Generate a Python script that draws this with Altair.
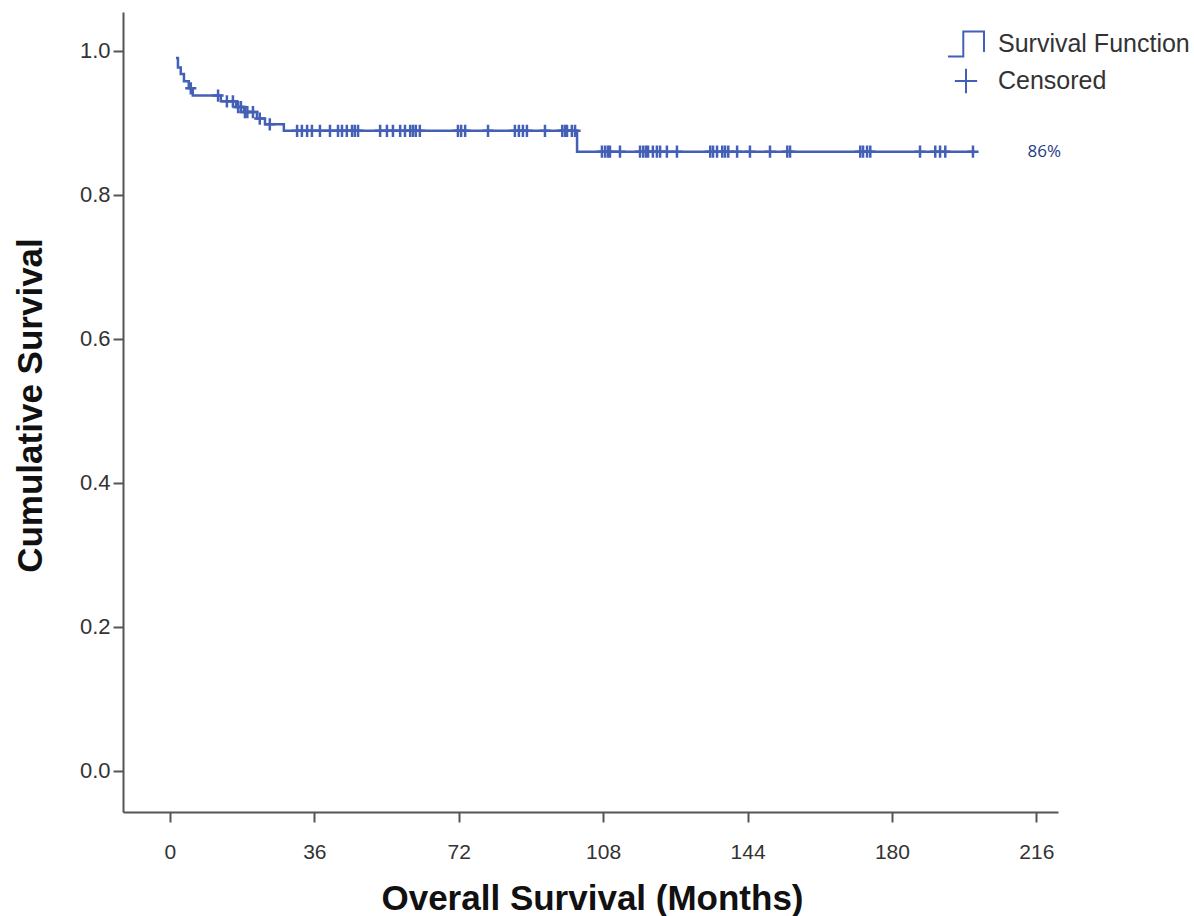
import altair as alt
import pandas as pd

# Kaplan-Meier step curve (months, cumulative survival)
step_times = [1.5, 2.0, 2.7, 3.5, 4.7, 5.7, 12.7, 16.5, 18.5, 21.7, 23.7, 28.4, 101.5, 200.7]
step_surv = [0.990, 0.977, 0.968, 0.958, 0.948, 0.938, 0.930, 0.922, 0.915, 0.906, 0.898, 0.889, 0.860, 0.860]

# Censored observations
cens_times = [5.2, 12.0, 14.2, 15.7, 17.0, 17.7, 18.7, 19.3, 20.7, 22.4, 24.9,
              31.7, 32.9, 34.2, 35.4, 37.4, 39.9, 41.9, 42.9, 44.1, 45.4, 46.1, 46.9,
              52.4, 54.1, 55.6, 57.4, 58.6, 59.9, 60.6, 61.3, 62.3, 71.8, 72.6, 73.6,
              79.3, 86.0, 87.0, 88.0, 89.0, 93.5, 97.8, 98.5, 99.0, 100.2, 101.0,
              107.7, 108.5, 109.2, 109.7, 112.2, 117.2, 118.0, 118.7, 119.2, 120.4,
              121.4, 122.2, 123.9, 126.4, 134.7, 135.4, 136.4, 137.7, 138.4, 139.2,
              141.4, 144.6, 149.6, 153.9, 154.6, 172.1, 172.8, 173.8, 174.6, 187.0,
              190.8, 192.0, 193.3, 200.2]
cens_surv = [0.948, 0.938, 0.930, 0.930, 0.922, 0.922, 0.915, 0.915, 0.915, 0.906, 0.898] + \
            [0.889] * 35 + [0.860] * 34

x_ticks = [0, 36, 72, 108, 144, 180, 216]
y_ticks = [0.0, 0.2, 0.4, 0.6, 0.8, 1.0]
legend_names = ["Survival Function", "Censored"]
annot_text = ["86%"]
annot_x = [218]
annot_y = [0.86]

BLUE = "#4360B6"
STEP_PATH = "M-1,0.7H-0.15V-0.7H1V0.45"
PLUS_PATH = "M-0.62,0H0.62M0,-0.68V0.68"

steps = pd.DataFrame({"t": step_times, "s": step_surv})
cens = pd.DataFrame({"t": cens_times, "s": cens_surv, "kind": "Censored"})
annot = pd.DataFrame({"t": annot_x, "s": annot_y, "label": annot_text})

xscale = alt.Scale(domain=[-11.7, 221.4], nice=False, zero=False)
yscale = alt.Scale(domain=[-0.057, 1.054], nice=False, zero=False)

xaxis = alt.Axis(values=x_ticks, title="Overall Survival (Months)", grid=False,
                 labelFontSize=21, labelPadding=19, tickSize=10,
                 titleFontSize=35, titleFontWeight="bold", titleColor="#111",
                 titleX=469, titleY=86, titleBaseline="middle", titleAlign="center")
yaxis = alt.Axis(values=y_ticks, format=".1f", title="Cumulative Survival", grid=False,
                 labelFontSize=22, labelPadding=3, tickSize=10,
                 titleFontSize=35, titleFontWeight="bold", titleColor="#111",
                 titleX=-93, titleY=393, titleAngle=-90, titleBaseline="middle",
                 titleAlign="center")

line = alt.Chart(steps).mark_line(interpolate="step-after", color=BLUE, strokeWidth=2.5).encode(
    x=alt.X("t:Q", scale=xscale, axis=xaxis),
    y=alt.Y("s:Q", scale=yscale, axis=yaxis),
)

points = alt.Chart(cens).mark_point(filled=False, color=BLUE, strokeWidth=2.5, size=324, opacity=1).encode(
    x=alt.X("t:Q", scale=xscale),
    y=alt.Y("s:Q", scale=yscale),
    shape=alt.Shape("kind:N",
                    scale=alt.Scale(domain=legend_names, range=[STEP_PATH, PLUS_PATH]),
                    legend=alt.Legend(title=None, orient="none", legendX=824, legendY=13,
                                      symbolSize=1296, symbolStrokeColor=BLUE,
                                      symbolFillColor="transparent", symbolStrokeWidth=2,
                                      labelFont="Liberation Sans", labelFontSize=25,
                                      labelColor="#333", labelOffset=13, rowPadding=1,
                                      labelLimit=0, padding=0)),
)

text = alt.Chart(annot).mark_text(font="Open Sans", fontSize=17, color="#1F3C88",
                                  align="center", baseline="middle").encode(
    x=alt.X("t:Q", scale=xscale),
    y=alt.Y("s:Q", scale=yscale),
    text="label:N",
)

chart = alt.layer(line, points, text).properties(
    width=935, height=800,
    autosize=alt.AutoSizeParams(type="none"),
    padding={"left": 123, "top": 12, "right": 136, "bottom": 104},
    background="white",
).configure_view(stroke=None).configure_axis(
    labelFont="Liberation Sans", titleFont="Liberation Sans",
    labelColor="#333", domainColor="#555", tickColor="#555",
    domainWidth=2, tickWidth=2,
)

chart.save("out.html", embed_options={"renderer": "svg", "actions": False})
